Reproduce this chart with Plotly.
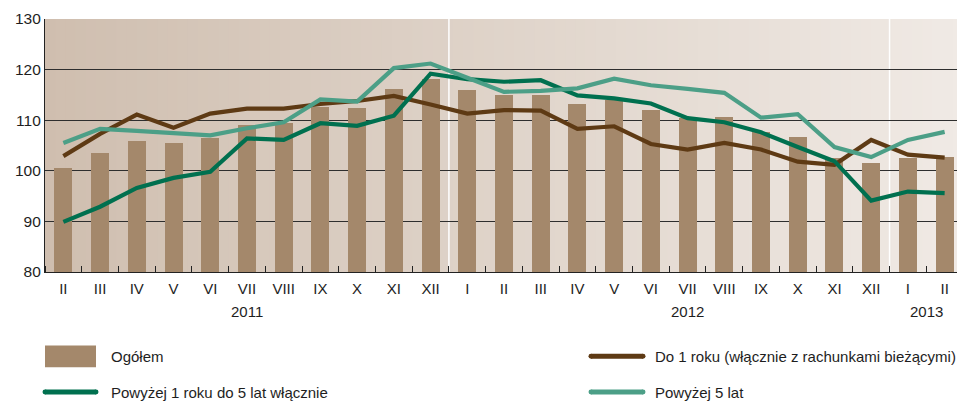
import plotly.graph_objects as go

# ---------------- data ----------------
months = ["II", "III", "IV", "V", "VI", "VII", "VIII", "IX", "X", "XI", "XII",
          "I", "II", "III", "IV", "V", "VI", "VII", "VIII", "IX", "X", "XI", "XII",
          "I", "II"]
years = ["2011", "2012", "2013"]
year_label_index = [5, 17, 23.5]
year_boundaries = [10.5, 22.5]

ogolem = [100.5, 103.6, 105.8, 105.4, 106.4, 109.1, 109.5, 112.6, 112.5, 116.2, 118.2,
          116.0, 114.9, 115.0, 113.2, 114.0, 112.1, 110.4, 110.7, 107.6, 106.6, 102.6, 101.5,
          102.5, 102.8]
do_1_roku = [102.9, 107.3, 111.1, 108.5, 111.3, 112.3, 112.3, 113.2, 113.8, 114.8, 113.1,
             111.3, 112.0, 111.9, 108.3, 108.8, 105.3, 104.2, 105.5, 104.2, 101.8, 101.2, 106.1,
             103.2, 102.6]
powyzej_1_do_5 = [89.9, 92.9, 96.6, 98.6, 99.8, 106.4, 106.1, 109.4, 108.9, 110.9, 119.2,
                  118.1, 117.6, 117.9, 114.9, 114.3, 113.3, 110.4, 109.6, 107.6, 104.7, 101.9, 94.1,
                  95.9, 95.6]
powyzej_5 = [105.5, 108.3, 107.9, 107.4, 107.0, 108.4, 109.6, 114.1, 113.7, 120.3, 121.2,
             118.4, 115.6, 115.8, 116.3, 118.2, 116.9, 116.2, 115.4, 110.5, 111.2, 104.7, 102.7,
             106.1, 107.7]

series_names = ["Ogółem", "Do 1 roku (włącznie z rachunkami bieżącymi)",
                "Powyżej 1 roku do 5 lat włącznie", "Powyżej 5 lat"]

# ---------------- style ----------------
OFF = 8                      # default page body margin of the html page
W, H = 965 - OFF, 401 - OFF
ML, MR, MT, MB = 45 - OFF, 2, 17 - OFF, 401 - 272
PW = W - ML - MR
PH = H - MT - MB
FONT = "Liberation Sans, Arial, sans-serif"
TXT = "#1e1e1e"
BAR_C = "#a4886b"
BROWN = "#5e3a14"
DGREEN = "#00704f"
TEAL = "#4c9f87"

x = list(range(len(months)))

fig = go.Figure()
fig.add_trace(go.Bar(x=x, y=ogolem, width=0.49, marker=dict(color=BAR_C, line=dict(width=0)),
                     name=series_names[0], showlegend=False))
fig.add_trace(go.Scatter(x=x, y=do_1_roku, mode="lines", line=dict(color=BROWN, width=4.2),
                         name=series_names[1], showlegend=False))
fig.add_trace(go.Scatter(x=x, y=powyzej_1_do_5, mode="lines", line=dict(color=DGREEN, width=4.2),
                         name=series_names[2], showlegend=False))
fig.add_trace(go.Scatter(x=x, y=powyzej_5, mode="lines", line=dict(color=TEAL, width=4.2),
                         name=series_names[3], showlegend=False))

shapes = []
# horizontal gradient background of plot area
N = 90
c0 = (207, 190, 175)
c1 = (240, 234, 229)
for i in range(N):
    t = (i + 0.5) / N
    col = tuple(round(c0[k] + (c1[k] - c0[k]) * t) for k in range(3))
    shapes.append(dict(type="rect", xref="paper", yref="paper",
                       x0=i / N, x1=min(1, (i + 1.3) / N), y0=0, y1=1,
                       fillcolor="rgb(%d,%d,%d)" % col, line=dict(width=0), layer="below"))
for b in year_boundaries:
    shapes.append(dict(type="line", xref="x", yref="paper", x0=b, x1=b, y0=0, y1=1,
                       line=dict(color="white", width=1.5), layer="below"))


def px(xw):
    # window pixel -> paper fraction
    return (xw - OFF - ML) / PW


def py(yw):
    return (MT + PH - (yw - OFF)) / PH


# legend (manual, 2 x 2 grid)
shapes.append(dict(type="rect", xref="paper", yref="paper", x0=px(45), x1=px(96),
                   y0=py(368), y1=py(346), fillcolor=BAR_C, line=dict(width=0)))
for (x0, x1, yy, c) in [(591, 643, 357, BROWN), (45, 96, 393, DGREEN), (591, 643, 393, TEAL)]:
    shapes.append(dict(type="line", xref="paper", yref="paper", x0=px(x0), x1=px(x1),
                       y0=py(yy), y1=py(yy), line=dict(color=c, width=5)))
    for xe in (x0, x1):
        shapes.append(dict(type="circle", xref="paper", yref="paper",
                           x0=px(xe - 2.5), x1=px(xe + 2.5), y0=py(yy + 2.5), y1=py(yy - 2.5),
                           fillcolor=c, line=dict(width=0)))

annotations = []
for (xx, yy, txt) in [(109, 357, series_names[0]), (653, 357, series_names[1]),
                      (109, 393, series_names[2]), (653, 393, series_names[3])]:
    annotations.append(dict(x=px(xx), y=py(yy), xref="paper", yref="paper", text=txt,
                            showarrow=False, xanchor="left", yanchor="middle",
                            font=dict(family=FONT, size=15, color=TXT)))
for yr, xi in zip(years, year_label_index):
    annotations.append(dict(x=xi, y=py(312), xref="x", yref="paper", text=yr,
                            showarrow=False, xanchor="center", yanchor="middle",
                            font=dict(family=FONT, size=15, color=TXT)))

fig.update_layout(
    width=W, height=H,
    margin=dict(l=ML, r=MR, t=MT, b=MB),
    paper_bgcolor="white",
    plot_bgcolor="rgba(0,0,0,0)",
    font=dict(family=FONT, size=15, color=TXT),
    shapes=shapes,
    annotations=annotations,
    bargap=0,
    xaxis=dict(range=[-0.5, len(months) - 0.5], tickmode="array", tickvals=x, ticktext=months,
               ticks="", showgrid=False, zeroline=False, showline=True,
               linecolor="#222222", linewidth=1.2, ticklabelstandoff=3,
               tickfont=dict(family=FONT, size=15, color=TXT),
               minor=dict(tickmode="array", tickvals=[i + 0.5 for i in range(-1, len(months))],
                          ticks="inside", ticklen=6, tickcolor="#222222", tickwidth=1,
                          showgrid=False)),
    yaxis=dict(range=[80, 130], tickmode="array", tickvals=[80, 90, 100, 110, 120, 130],
               ticks="", showgrid=True, gridcolor="#2e2e2e", gridwidth=1,
               zeroline=False, showline=True, linecolor="#222222", linewidth=1.2,
               tickfont=dict(family=FONT, size=15.5, color=TXT)),
)

fig.write_html("out.html")
